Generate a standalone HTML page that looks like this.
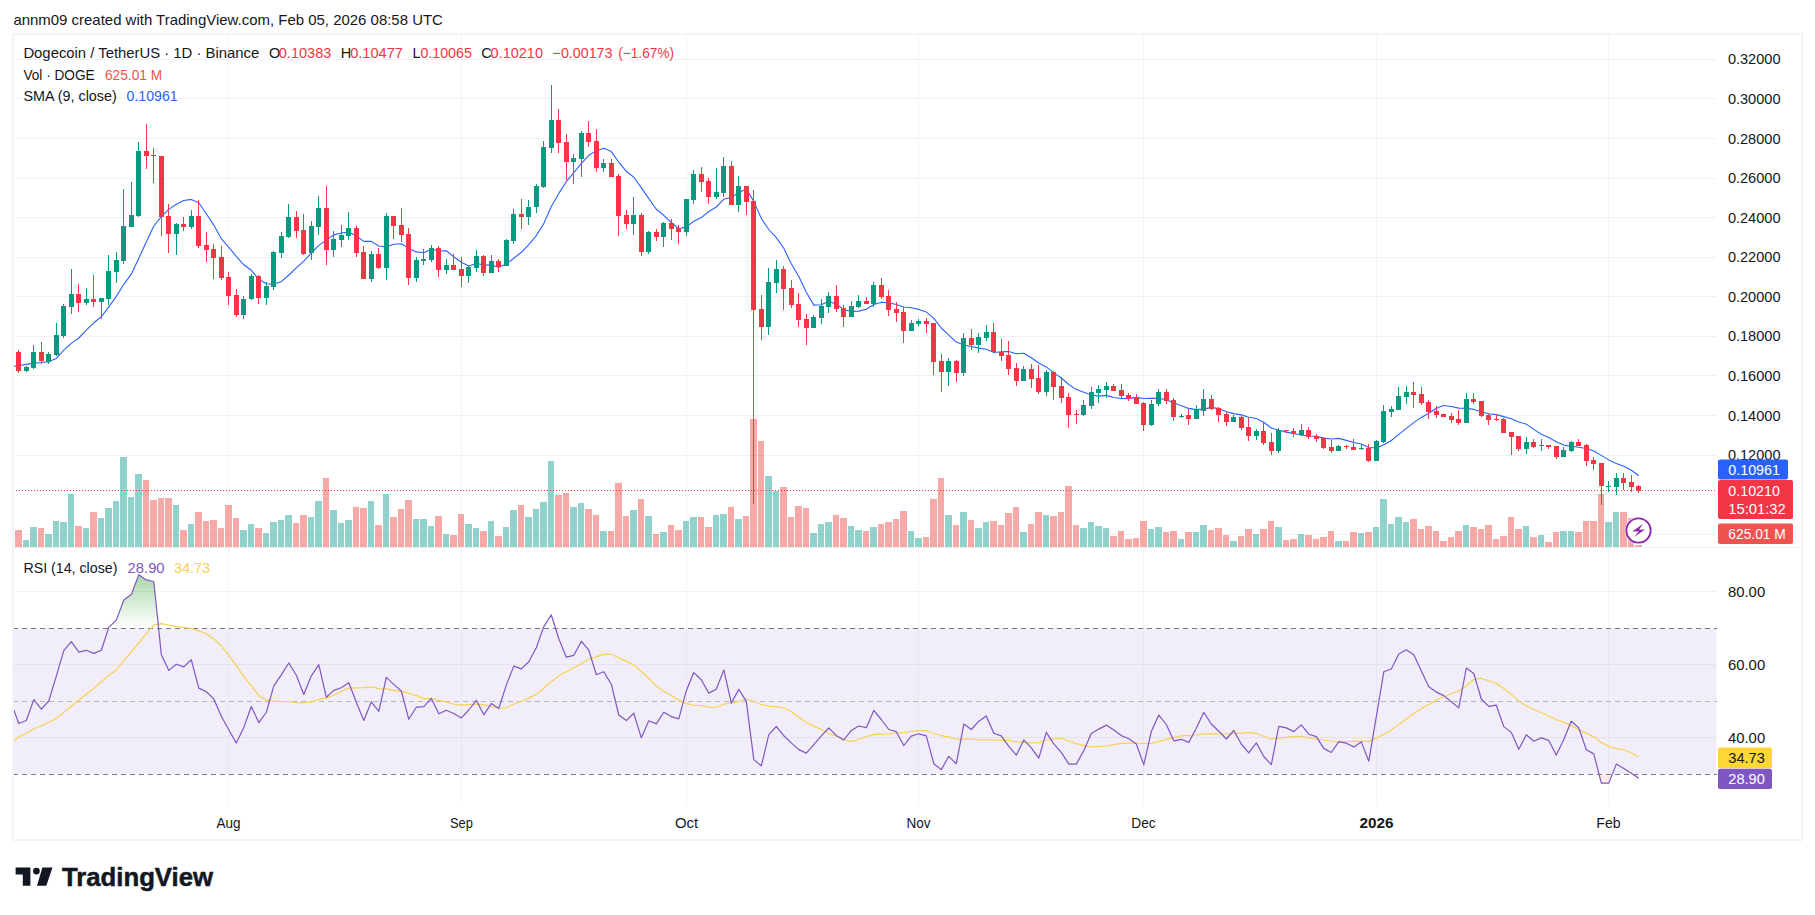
<!DOCTYPE html>
<html lang="en"><head><meta charset="utf-8"><title>DOGEUSDT chart</title>
<style>html,body{margin:0;padding:0;background:#fff;}body{width:1815px;height:915px;overflow:hidden;font-family:"Liberation Sans", Arial, sans-serif;}svg{display:block}</style>
</head><body>
<svg width="1815" height="915" viewBox="0 0 1815 915" font-family='"Liberation Sans", Arial, sans-serif'><rect x="0" y="0" width="1815" height="915" fill="#ffffff"/>
<path d="M13 59.5H1716 M13 98.5H1716 M13 138.5H1716 M13 178.5H1716 M13 217.5H1716 M13 257.5H1716 M13 296.5H1716 M13 336.5H1716 M13 375.5H1716 M13 415.5H1716 M13 455.5H1716 M13 494.5H1716 M13 534.5H1716 M13 591.5H1716 M13 664.5H1716 M13 737.5H1716" stroke="#f1f1f3" stroke-width="1" fill="none" shape-rendering="crispEdges"/>
<path d="M228.5 35V804 M461.5 35V804 M686.5 35V804 M918.5 35V804 M1143.5 35V804 M1376.5 35V804 M1608.5 35V804" stroke="#f4f4f6" stroke-width="1" fill="none" shape-rendering="crispEdges"/>
<path d="M13 547.5H1802" stroke="#eeeef0" stroke-width="1" shape-rendering="crispEdges"/>
<path d="M23 540H29V547H23ZM30 527H37V547H30ZM45 534H52V547H45ZM53 521H59V547H53ZM60 522H67V547H60ZM68 494H74V547H68ZM83 528H89V547H83ZM98 518H104V547H98ZM105 508H112V547H105ZM113 501H119V547H113ZM120 457H127V547H120ZM128 497H134V547H128ZM135 474H142V547H135ZM173 505H179V547H173ZM188 524H194V547H188ZM240 530H247V547H240ZM248 524H254V547H248ZM263 533H269V547H263ZM270 522H277V547H270ZM278 520H284V547H278ZM285 515H292V547H285ZM308 517H314V547H308ZM315 501H322V547H315ZM330 510H337V547H330ZM338 523H344V547H338ZM345 520H352V547H345ZM368 501H374V547H368ZM383 494H389V547H383ZM413 519H419V547H413ZM420 519H427V547H420ZM428 526H434V547H428ZM443 534H449V547H443ZM465 524H472V547H465ZM473 528H479V547H473ZM488 521H494V547H488ZM503 527H509V547H503ZM510 510H517V547H510ZM525 517H532V547H525ZM533 509H539V547H533ZM540 502H547V547H540ZM548 461H554V547H548ZM570 507H577V547H570ZM578 503H584V547H578ZM600 531H607V547H600ZM630 510H637V547H630ZM645 516H652V547H645ZM660 532H667V547H660ZM683 521H689V547H683ZM690 517H697V547H690ZM713 515H719V547H713ZM720 514H727V547H720ZM735 519H742V547H735ZM765 476H772V547H765ZM773 491H779V547H773ZM810 533H817V547H810ZM818 524H824V547H818ZM825 522H832V547H825ZM848 526H854V547H848ZM855 530H862V547H855ZM870 527H877V547H870ZM908 531H914V547H908ZM915 538H922V547H915ZM945 515H952V547H945ZM960 512H967V547H960ZM975 528H982V547H975ZM983 522H989V547H983ZM1020 532H1027V547H1020ZM1043 515H1049V547H1043ZM1080 528H1087V547H1080ZM1088 522H1094V547H1088ZM1095 526H1102V547H1095ZM1103 528H1109V547H1103ZM1148 529H1154V547H1148ZM1155 527H1162V547H1155ZM1178 539H1184V547H1178ZM1193 532H1199V547H1193ZM1200 525H1207V547H1200ZM1230 541H1237V547H1230ZM1253 534H1259V547H1253ZM1275 527H1282V547H1275ZM1298 534H1304V547H1298ZM1335 541H1342V547H1335ZM1358 533H1364V547H1358ZM1373 527H1379V547H1373ZM1380 499H1387V547H1380ZM1388 524H1394V547H1388ZM1395 517H1402V547H1395ZM1403 522H1409V547H1403ZM1463 525H1469V547H1463ZM1523 526H1529V547H1523ZM1538 535H1544V547H1538ZM1560 531H1567V547H1560ZM1568 531H1574V547H1568ZM1605 522H1612V547H1605ZM1613 512H1619V547H1613Z" fill="#26a69a" fill-opacity="0.5" shape-rendering="crispEdges"/>
<path d="M15 530H22V547H15ZM38 528H44V547H38ZM75 526H82V547H75ZM90 512H97V547H90ZM143 480H149V547H143ZM150 500H157V547H150ZM158 498H164V547H158ZM165 498H172V547H165ZM180 530H187V547H180ZM195 512H202V547H195ZM203 521H209V547H203ZM210 520H217V547H210ZM218 528H224V547H218ZM225 505H232V547H225ZM233 518H239V547H233ZM255 528H262V547H255ZM293 523H299V547H293ZM300 515H307V547H300ZM323 478H329V547H323ZM353 507H359V547H353ZM360 508H367V547H360ZM375 525H382V547H375ZM390 517H397V547H390ZM398 509H404V547H398ZM405 500H412V547H405ZM435 516H442V547H435ZM450 535H457V547H450ZM458 514H464V547H458ZM480 531H487V547H480ZM495 536H502V547H495ZM518 505H524V547H518ZM555 495H562V547H555ZM563 493H569V547H563ZM585 509H592V547H585ZM593 515H599V547H593ZM608 531H614V547H608ZM615 483H622V547H615ZM623 516H629V547H623ZM638 499H644V547H638ZM653 534H659V547H653ZM668 525H674V547H668ZM675 530H682V547H675ZM698 517H704V547H698ZM705 527H712V547H705ZM728 507H734V547H728ZM743 516H749V547H743ZM750 419H757V547H750ZM758 441H764V547H758ZM780 487H787V547H780ZM788 517H794V547H788ZM795 506H802V547H795ZM803 508H809V547H803ZM833 515H839V547H833ZM840 518H847V547H840ZM863 531H869V547H863ZM878 524H884V547H878ZM885 522H892V547H885ZM893 519H899V547H893ZM900 511H907V547H900ZM923 537H929V547H923ZM930 499H937V547H930ZM938 478H944V547H938ZM953 525H959V547H953ZM968 520H974V547H968ZM990 521H997V547H990ZM998 525H1004V547H998ZM1005 513H1012V547H1005ZM1013 507H1019V547H1013ZM1028 524H1034V547H1028ZM1035 512H1042V547H1035ZM1050 516H1057V547H1050ZM1058 512H1064V547H1058ZM1065 486H1072V547H1065ZM1073 525H1079V547H1073ZM1110 536H1117V547H1110ZM1118 531H1124V547H1118ZM1125 539H1132V547H1125ZM1133 538H1139V547H1133ZM1140 521H1147V547H1140ZM1163 532H1169V547H1163ZM1170 531H1177V547H1170ZM1185 532H1192V547H1185ZM1208 530H1214V547H1208ZM1215 528H1222V547H1215ZM1223 535H1229V547H1223ZM1238 536H1244V547H1238ZM1245 529H1252V547H1245ZM1260 529H1267V547H1260ZM1268 521H1274V547H1268ZM1283 540H1289V547H1283ZM1290 539H1297V547H1290ZM1305 535H1312V547H1305ZM1313 539H1319V547H1313ZM1320 537H1327V547H1320ZM1328 531H1334V547H1328ZM1343 541H1349V547H1343ZM1350 532H1357V547H1350ZM1365 532H1372V547H1365ZM1410 519H1417V547H1410ZM1418 529H1424V547H1418ZM1425 526H1432V547H1425ZM1433 531H1439V547H1433ZM1440 541H1447V547H1440ZM1448 537H1454V547H1448ZM1455 531H1462V547H1455ZM1470 527H1477V547H1470ZM1478 529H1484V547H1478ZM1485 525H1492V547H1485ZM1493 539H1499V547H1493ZM1500 536H1507V547H1500ZM1508 517H1514V547H1508ZM1515 529H1522V547H1515ZM1530 537H1537V547H1530ZM1545 542H1552V547H1545ZM1553 532H1559V547H1553ZM1575 532H1582V547H1575ZM1583 521H1589V547H1583ZM1590 521H1597V547H1590ZM1598 494H1604V547H1598ZM1620 512H1627V547H1620ZM1628 518H1634V547H1628ZM1635 545H1642V547H1635Z" fill="#ef5350" fill-opacity="0.5" shape-rendering="crispEdges"/>
<path d="M13 490.5H1716" stroke="#f23645" stroke-width="1" stroke-dasharray="1 2" shape-rendering="crispEdges"/>
<clipPath id="cp"><rect x="13" y="35" width="1703" height="512"/></clipPath><path d="M11.3 366.6 L18.8 365.7 L26.3 364.4 L33.8 363.1 L41.3 362.5 L48.8 361.6 L56.3 358.4 L63.8 350.2 L71.3 343.4 L78.8 338.0 L86.3 330.1 L93.8 322.8 L101.3 316.8 L108.8 306.8 L116.3 296.4 L123.8 284.3 L131.3 274.2 L138.8 258.3 L146.3 242.0 L153.8 226.0 L161.3 216.6 L168.8 209.4 L176.3 204.2 L183.8 200.5 L191.3 199.4 L198.8 202.8 L206.3 213.8 L213.8 225.1 L221.3 238.7 L228.8 247.4 L236.3 256.4 L243.8 264.8 L251.3 270.3 L258.8 279.3 L266.3 283.8 L273.8 284.1 L281.3 281.7 L288.8 275.0 L296.3 267.8 L303.8 261.1 L311.3 253.0 L318.8 245.4 L326.3 240.1 L333.8 234.9 L341.3 233.0 L348.8 232.1 L356.3 236.0 L363.8 241.4 L371.3 241.4 L378.8 246.0 L386.3 246.9 L393.8 244.2 L401.3 243.7 L408.8 248.4 L416.3 251.9 L423.8 252.7 L431.3 249.2 L438.8 251.0 L446.3 250.7 L453.8 256.7 L461.3 262.3 L468.8 265.9 L476.3 263.5 L483.8 264.9 L491.3 265.1 L498.8 267.2 L506.3 263.9 L513.8 258.2 L521.3 252.3 L528.8 244.6 L536.3 235.6 L543.8 223.5 L551.3 206.5 L558.8 193.4 L566.3 181.7 L573.8 172.6 L581.3 163.6 L588.8 155.3 L596.3 150.9 L603.8 148.3 L611.3 151.6 L618.8 162.2 L626.3 171.3 L633.8 177.2 L641.3 187.6 L648.8 198.6 L656.3 209.2 L663.8 215.3 L671.3 222.6 L678.8 228.7 L686.3 226.9 L693.8 221.3 L701.3 217.6 L708.8 211.5 L716.3 207.0 L723.8 199.2 L731.3 197.2 L738.8 192.5 L746.3 189.1 L753.8 201.4 L761.3 218.4 L768.8 229.5 L776.3 237.6 L783.8 248.3 L791.3 263.8 L798.8 276.5 L806.3 292.2 L813.8 305.1 L821.3 304.7 L828.8 301.3 L836.3 304.3 L843.8 309.5 L851.3 311.5 L858.8 311.1 L866.3 309.3 L873.8 304.5 L881.3 302.3 L888.8 302.7 L896.3 304.5 L903.8 307.0 L911.3 307.7 L918.8 309.4 L926.3 311.9 L933.8 318.3 L941.3 328.0 L948.8 335.2 L956.3 342.1 L963.8 345.0 L971.3 346.5 L978.8 348.1 L986.3 349.3 L993.8 352.5 L1001.3 351.8 L1008.8 351.5 L1016.3 353.7 L1023.8 353.2 L1031.3 357.8 L1038.8 363.0 L1046.3 366.9 L1053.8 372.9 L1061.3 378.0 L1068.8 384.5 L1076.3 389.6 L1083.8 392.3 L1091.3 395.0 L1098.8 396.1 L1106.3 395.4 L1113.8 397.5 L1121.3 398.5 L1128.8 398.6 L1136.3 397.4 L1143.8 398.5 L1151.3 398.4 L1158.8 398.4 L1166.3 399.7 L1173.8 403.1 L1181.3 405.8 L1188.8 408.4 L1196.3 409.6 L1203.8 409.1 L1211.3 407.4 L1218.8 408.6 L1226.3 411.8 L1233.8 413.6 L1241.3 414.9 L1248.8 417.2 L1256.3 418.5 L1263.8 422.2 L1271.3 428.0 L1278.8 430.3 L1286.3 432.1 L1293.8 433.5 L1301.3 435.0 L1308.8 436.0 L1316.3 436.3 L1323.8 438.1 L1331.3 439.0 L1338.8 438.4 L1346.3 440.4 L1353.8 442.5 L1361.3 444.0 L1368.8 447.5 L1376.3 447.9 L1383.8 444.8 L1391.3 440.5 L1398.8 434.4 L1406.3 428.4 L1413.8 422.6 L1421.3 417.4 L1428.8 413.3 L1436.3 408.2 L1443.8 405.5 L1451.3 406.5 L1458.8 408.1 L1466.3 408.4 L1473.8 409.4 L1481.3 411.8 L1488.8 413.7 L1496.3 414.6 L1503.8 416.6 L1511.3 418.8 L1518.8 422.0 L1526.3 424.1 L1533.8 429.4 L1541.3 434.2 L1548.8 437.6 L1556.3 441.7 L1563.8 445.1 L1571.3 446.2 L1578.8 447.2 L1586.3 448.5 L1593.8 451.0 L1601.3 455.4 L1608.8 459.9 L1616.3 463.4 L1623.8 466.3 L1631.3 470.3 L1638.8 475.7" stroke="#2962ff" stroke-width="1.1" fill="none" stroke-linejoin="round" clip-path="url(#cp)"/>
<path d="M26 366h1V372h-1Z M24 367h5V371h-5ZM33 345h1V369h-1Z M31 352h5V368h-5ZM48 352h1V364h-1Z M46 354h5V362h-5ZM56 323h1V356h-1Z M54 335h5V355h-5ZM63 304h1V338h-1Z M61 306h5V336h-5ZM71 269h1V314h-1Z M69 294h5V307h-5ZM86 288h1V305h-1Z M84 299h5V303h-5ZM101 298h1V319h-1Z M99 298h5V302h-5ZM108 255h1V305h-1Z M106 271h5V299h-5ZM116 252h1V283h-1Z M114 260h5V272h-5ZM123 189h1V264h-1Z M121 226h5V261h-5ZM131 182h1V227h-1Z M129 215h5V227h-5ZM138 142h1V217h-1Z M136 151h5V216h-5ZM176 223h1V255h-1Z M174 224h5V234h-5ZM191 210h1V229h-1Z M189 216h5V227h-5ZM243 296h1V319h-1Z M241 299h5V315h-5ZM251 274h1V300h-1Z M249 276h5V299h-5ZM266 282h1V305h-1Z M264 286h5V298h-5ZM273 251h1V290h-1Z M271 252h5V287h-5ZM281 232h1V258h-1Z M279 236h5V253h-5ZM288 204h1V238h-1Z M286 217h5V237h-5ZM311 221h1V260h-1Z M309 226h5V253h-5ZM318 196h1V235h-1Z M316 208h5V227h-5ZM333 231h1V257h-1Z M331 239h5V250h-5ZM341 225h1V247h-1Z M339 235h5V240h-5ZM348 212h1V240h-1Z M346 228h5V236h-5ZM371 251h1V282h-1Z M369 254h5V279h-5ZM386 213h1V280h-1Z M384 216h5V268h-5ZM416 257h1V282h-1Z M414 260h5V278h-5ZM423 249h1V265h-1Z M421 259h5V261h-5ZM431 245h1V262h-1Z M429 248h5V260h-5ZM446 259h1V274h-1Z M444 265h5V270h-5ZM468 266h1V283h-1Z M466 267h5V276h-5ZM476 250h1V272h-1Z M474 256h5V268h-5ZM491 255h1V273h-1Z M489 261h5V273h-5ZM506 239h1V266h-1Z M504 240h5V266h-5ZM513 209h1V244h-1Z M511 214h5V241h-5ZM528 200h1V225h-1Z M526 207h5V217h-5ZM536 184h1V213h-1Z M534 186h5V207h-5ZM543 141h1V188h-1Z M541 147h5V187h-5ZM551 85h1V153h-1Z M549 120h5V148h-5ZM573 154h1V184h-1Z M571 158h5V162h-5ZM581 131h1V177h-1Z M579 133h5V159h-5ZM603 159h1V172h-1Z M601 163h5V168h-5ZM633 197h1V235h-1Z M631 215h5V224h-5ZM648 231h1V254h-1Z M646 232h5V252h-5ZM663 222h1V247h-1Z M661 223h5V237h-5ZM686 199h1V236h-1Z M684 199h5V232h-5ZM693 170h1V204h-1Z M691 174h5V200h-5ZM716 168h1V199h-1Z M714 192h5V197h-5ZM723 157h1V197h-1Z M721 166h5V193h-5ZM738 176h1V212h-1Z M736 186h5V205h-5ZM768 268h1V335h-1Z M766 282h5V327h-5ZM776 260h1V293h-1Z M774 269h5V283h-5ZM813 315h1V328h-1Z M811 317h5V328h-5ZM821 299h1V324h-1Z M819 306h5V318h-5ZM828 292h1V313h-1Z M826 296h5V307h-5ZM851 301h1V317h-1Z M849 306h5V317h-5ZM858 295h1V308h-1Z M856 301h5V307h-5ZM873 282h1V307h-1Z M871 285h5V304h-5ZM911 320h1V331h-1Z M909 323h5V331h-5ZM918 319h1V326h-1Z M916 321h5V324h-5ZM948 358h1V386h-1Z M946 361h5V372h-5ZM963 333h1V376h-1Z M961 338h5V373h-5ZM978 333h1V353h-1Z M976 337h5V345h-5ZM986 325h1V341h-1Z M984 332h5V338h-5ZM1023 366h1V381h-1Z M1021 369h5V381h-5ZM1046 370h1V396h-1Z M1044 372h5V392h-5ZM1083 400h1V416h-1Z M1081 405h5V415h-5ZM1091 387h1V409h-1Z M1089 392h5V406h-5ZM1098 385h1V403h-1Z M1096 389h5V393h-5ZM1106 382h1V398h-1Z M1104 386h5V390h-5ZM1151 400h1V426h-1Z M1149 404h5V425h-5ZM1158 389h1V406h-1Z M1156 392h5V404h-5ZM1181 414h1V418h-1Z M1179 416h5V417h-5ZM1196 405h1V419h-1Z M1194 410h5V419h-5ZM1203 389h1V416h-1Z M1201 399h5V411h-5ZM1233 415h1V422h-1Z M1231 417h5V422h-5ZM1256 429h1V440h-1Z M1254 431h5V436h-5ZM1278 428h1V453h-1Z M1276 430h5V451h-5ZM1301 424h1V436h-1Z M1299 430h5V435h-5ZM1338 445h1V451h-1Z M1336 446h5V451h-5ZM1361 444h1V450h-1Z M1359 448h5V449h-5ZM1376 440h1V461h-1Z M1374 441h5V461h-5ZM1383 405h1V443h-1Z M1381 411h5V442h-5ZM1391 406h1V417h-1Z M1389 409h5V412h-5ZM1398 387h1V410h-1Z M1396 396h5V410h-5ZM1406 386h1V404h-1Z M1404 392h5V397h-5ZM1466 393h1V423h-1Z M1464 399h5V423h-5ZM1526 437h1V454h-1Z M1524 442h5V449h-5ZM1541 439h1V451h-1Z M1539 445h5V446h-5ZM1563 447h1V457h-1Z M1561 450h5V457h-5ZM1571 441h1V452h-1Z M1569 442h5V451h-5ZM1608 481h1V492h-1Z M1606 486h5V487h-5ZM1616 473h1V495h-1Z M1614 478h5V487h-5Z" fill="#089981" shape-rendering="crispEdges"/>
<path d="M18 350h1V373h-1Z M16 352h5V371h-5ZM41 342h1V364h-1Z M39 352h5V361h-5ZM78 284h1V312h-1Z M76 294h5V303h-5ZM93 275h1V307h-1Z M91 299h5V302h-5ZM146 124h1V169h-1Z M144 151h5V156h-5ZM153 148h1V183h-1Z M151 155h5V156h-5ZM161 156h1V236h-1Z M159 156h5V217h-5ZM168 204h1V253h-1Z M166 216h5V234h-5ZM183 217h1V231h-1Z M181 224h5V227h-5ZM198 200h1V248h-1Z M196 216h5V246h-5ZM206 232h1V262h-1Z M204 245h5V250h-5ZM213 244h1V279h-1Z M211 249h5V258h-5ZM221 246h1V280h-1Z M219 257h5V278h-5ZM228 272h1V305h-1Z M226 277h5V296h-5ZM236 289h1V317h-1Z M234 295h5V315h-5ZM258 275h1V304h-1Z M256 276h5V298h-5ZM296 211h1V238h-1Z M294 217h5V231h-5ZM303 214h1V255h-1Z M301 230h5V254h-5ZM326 186h1V265h-1Z M324 208h5V250h-5ZM356 226h1V257h-1Z M354 228h5V253h-5ZM363 246h1V279h-1Z M361 252h5V279h-5ZM378 248h1V269h-1Z M376 254h5V268h-5ZM393 216h1V239h-1Z M391 216h5V226h-5ZM401 208h1V242h-1Z M399 225h5V235h-5ZM408 228h1V285h-1Z M406 234h5V278h-5ZM438 246h1V277h-1Z M436 248h5V270h-5ZM453 254h1V270h-1Z M451 265h5V270h-5ZM461 257h1V287h-1Z M459 269h5V276h-5ZM483 255h1V276h-1Z M481 256h5V273h-5ZM498 259h1V272h-1Z M496 261h5V267h-5ZM521 199h1V229h-1Z M519 214h5V217h-5ZM558 109h1V153h-1Z M556 120h5V143h-5ZM566 134h1V180h-1Z M564 142h5V162h-5ZM588 121h1V147h-1Z M586 133h5V142h-5ZM596 129h1V172h-1Z M594 141h5V168h-5ZM611 159h1V177h-1Z M609 163h5V177h-5ZM618 174h1V236h-1Z M616 176h5V216h-5ZM626 210h1V229h-1Z M624 215h5V224h-5ZM641 213h1V256h-1Z M639 215h5V252h-5ZM656 229h1V241h-1Z M654 232h5V237h-5ZM671 219h1V240h-1Z M669 223h5V229h-5ZM678 225h1V244h-1Z M676 228h5V232h-5ZM701 167h1V192h-1Z M699 174h5V182h-5ZM708 178h1V204h-1Z M706 181h5V197h-5ZM731 161h1V205h-1Z M729 166h5V205h-5ZM746 186h1V215h-1Z M744 186h5V202h-5ZM753 190h1V504h-1Z M751 201h5V310h-5ZM761 295h1V340h-1Z M759 309h5V327h-5ZM783 266h1V310h-1Z M781 269h5V289h-5ZM791 280h1V308h-1Z M789 288h5V305h-5ZM798 293h1V327h-1Z M796 304h5V320h-5ZM806 314h1V345h-1Z M804 319h5V328h-5ZM836 285h1V312h-1Z M834 296h5V309h-5ZM843 305h1V327h-1Z M841 308h5V317h-5ZM866 297h1V304h-1Z M864 301h5V304h-5ZM881 278h1V299h-1Z M879 285h5V297h-5ZM888 290h1V316h-1Z M886 296h5V310h-5ZM896 302h1V322h-1Z M894 309h5V313h-5ZM903 307h1V343h-1Z M901 312h5V331h-5ZM926 318h1V333h-1Z M924 321h5V324h-5ZM933 323h1V375h-1Z M931 323h5V362h-5ZM941 354h1V392h-1Z M939 361h5V372h-5ZM956 360h1V382h-1Z M954 361h5V373h-5ZM971 329h1V350h-1Z M969 338h5V345h-5ZM993 323h1V353h-1Z M991 332h5V352h-5ZM1001 339h1V361h-1Z M999 352h5V356h-5ZM1008 341h1V375h-1Z M1006 355h5V369h-5ZM1016 363h1V386h-1Z M1014 368h5V381h-5ZM1031 364h1V388h-1Z M1029 369h5V379h-5ZM1038 365h1V394h-1Z M1036 378h5V392h-5ZM1053 371h1V400h-1Z M1051 372h5V387h-5ZM1061 377h1V403h-1Z M1059 386h5V398h-5ZM1068 393h1V428h-1Z M1066 397h5V415h-5ZM1076 410h1V424h-1Z M1074 414h5V415h-5ZM1113 384h1V391h-1Z M1111 386h5V391h-5ZM1121 384h1V398h-1Z M1119 390h5V396h-5ZM1128 393h1V401h-1Z M1126 395h5V399h-5ZM1136 394h1V404h-1Z M1134 398h5V404h-5ZM1143 402h1V431h-1Z M1141 403h5V425h-5ZM1166 389h1V404h-1Z M1164 392h5V401h-5ZM1173 398h1V421h-1Z M1171 400h5V417h-5ZM1188 409h1V425h-1Z M1186 415h5V419h-5ZM1211 395h1V410h-1Z M1209 399h5V409h-5ZM1218 407h1V422h-1Z M1216 408h5V415h-5ZM1226 412h1V426h-1Z M1224 414h5V422h-5ZM1241 416h1V430h-1Z M1239 417h5V428h-5ZM1248 418h1V441h-1Z M1246 427h5V436h-5ZM1263 422h1V445h-1Z M1261 431h5V443h-5ZM1271 433h1V455h-1Z M1269 442h5V451h-5ZM1286 430h1V433h-1Z M1284 430h5V431h-5ZM1293 428h1V437h-1Z M1291 431h5V434h-5ZM1308 427h1V439h-1Z M1306 430h5V437h-5ZM1316 434h1V442h-1Z M1314 436h5V439h-5ZM1323 437h1V449h-1Z M1321 438h5V448h-5ZM1331 440h1V453h-1Z M1329 447h5V451h-5ZM1346 445h1V449h-1Z M1344 446h5V447h-5ZM1353 439h1V450h-1Z M1351 447h5V450h-5ZM1368 444h1V462h-1Z M1366 448h5V461h-5ZM1413 382h1V408h-1Z M1411 392h5V395h-5ZM1421 387h1V405h-1Z M1419 394h5V403h-5ZM1428 400h1V419h-1Z M1426 402h5V412h-5ZM1436 406h1V418h-1Z M1434 411h5V415h-5ZM1443 414h1V417h-1Z M1441 414h5V417h-5ZM1451 413h1V423h-1Z M1449 416h5V420h-5ZM1458 410h1V425h-1Z M1456 419h5V423h-5ZM1473 393h1V404h-1Z M1471 399h5V402h-5ZM1481 401h1V417h-1Z M1479 401h5V416h-5ZM1488 414h1V425h-1Z M1486 415h5V420h-5ZM1496 414h1V421h-1Z M1494 419h5V420h-5ZM1503 418h1V433h-1Z M1501 419h5V433h-5ZM1511 432h1V455h-1Z M1509 432h5V437h-5ZM1518 436h1V451h-1Z M1516 436h5V449h-5ZM1533 439h1V448h-1Z M1531 442h5V447h-5ZM1548 445h1V449h-1Z M1546 445h5V447h-5ZM1556 446h1V459h-1Z M1554 446h5V457h-5ZM1578 439h1V446h-1Z M1576 442h5V446h-5ZM1586 444h1V466h-1Z M1584 445h5V461h-5ZM1593 457h1V470h-1Z M1591 460h5V464h-5ZM1601 463h1V505h-1Z M1599 463h5V486h-5ZM1623 473h1V490h-1Z M1621 478h5V483h-5ZM1631 475h1V492h-1Z M1629 482h5V487h-5ZM1638 485h1V493h-1Z M1636 486h5V491h-5Z" fill="#f23645" shape-rendering="crispEdges"/>
<clipPath id="cr"><rect x="13" y="548" width="1703.5" height="256"/></clipPath>
<rect x="13" y="628.3" width="1703.5" height="146.0" fill="#7e57c2" fill-opacity="0.1"/>
<defs><linearGradient id="gob" gradientUnits="userSpaceOnUse" x1="0" y1="518.8" x2="0" y2="628.3"><stop offset="0" stop-color="#4caf50" stop-opacity="1"/><stop offset="1" stop-color="#4caf50" stop-opacity="0"/></linearGradient><linearGradient id="gos" x1="0" y1="0" x2="0" y2="1"><stop offset="0" stop-color="#ff5252" stop-opacity="0"/><stop offset="1" stop-color="#ff5252" stop-opacity="0.4"/></linearGradient></defs>
<path d="M108.5 628.3 L108.8 627.4 L116.3 620.1 L123.8 600.0 L131.3 594.5 L138.8 574.8 L146.3 579.9 L153.8 581.5 L158.6 628.3Z" fill="url(#gob)" clip-path="url(#cr)"/>
<path d="M543.2 628.3 L543.8 626.6 L551.3 614.8 L555.5 628.3Z" fill="url(#gob)" clip-path="url(#cr)"/>
<path d="M1599.0 774.3 L1601.3 783.1 L1608.8 783.1 L1612.3 774.3Z" fill="#ff5252" fill-opacity="0.12" clip-path="url(#cr)"/>
<path d="M1632.9 774.3 L1638.8 778.3 L1638.8 774.3Z" fill="#ff5252" fill-opacity="0.12" clip-path="url(#cr)"/>
<path d="M13 628.5H1716.5" stroke="#787b86" stroke-width="1" stroke-dasharray="5 4" shape-rendering="crispEdges"/>
<path d="M13 701.5H1716.5" stroke="#b2b5be" stroke-width="1" stroke-dasharray="5 4" shape-rendering="crispEdges"/>
<path d="M13 774.5H1716.5" stroke="#787b86" stroke-width="1" stroke-dasharray="5 4" shape-rendering="crispEdges"/>
<path d="M11.3 744.0 L18.8 736.7 L26.3 733.5 L33.8 728.7 L41.3 725.8 L48.8 722.4 L56.3 718.2 L63.8 712.4 L71.3 706.2 L78.8 700.0 L86.3 694.3 L93.8 688.6 L101.3 681.8 L108.8 675.5 L116.3 669.7 L123.8 660.9 L131.3 651.9 L138.8 643.0 L146.3 633.7 L153.8 625.2 L161.3 623.6 L168.8 625.1 L176.3 626.7 L183.8 627.7 L191.3 628.4 L198.8 630.9 L206.3 633.8 L213.8 638.9 L221.3 645.8 L228.8 655.1 L236.3 665.7 L243.8 676.6 L251.3 685.6 L258.8 695.7 L266.3 699.9 L273.8 701.0 L281.3 701.7 L288.8 701.5 L296.3 702.6 L303.8 703.0 L311.3 701.9 L318.8 699.4 L326.3 698.1 L333.8 695.3 L341.3 691.3 L348.8 688.1 L356.3 687.8 L363.8 687.7 L371.3 686.9 L378.8 688.7 L386.3 688.9 L393.8 690.4 L401.3 691.6 L408.8 693.3 L416.3 695.6 L423.8 698.6 L431.3 698.7 L438.8 700.3 L446.3 701.9 L453.8 704.1 L461.3 705.2 L468.8 704.5 L476.3 704.4 L483.8 704.6 L491.3 706.5 L498.8 708.2 L506.3 707.8 L513.8 704.0 L521.3 701.3 L528.8 698.1 L536.3 694.4 L543.8 688.2 L551.3 681.4 L558.8 676.0 L566.3 671.7 L573.8 667.8 L581.3 663.6 L588.8 659.0 L596.3 656.9 L603.8 654.3 L611.3 654.2 L618.8 657.7 L626.3 661.4 L633.8 665.1 L641.3 671.5 L648.8 678.2 L656.3 686.0 L663.8 691.3 L671.3 695.5 L678.8 700.1 L686.3 703.6 L693.8 705.2 L701.3 705.6 L708.8 707.1 L716.3 707.5 L723.8 704.2 L731.3 703.0 L738.8 701.3 L746.3 698.7 L753.8 701.5 L761.3 704.5 L768.8 706.1 L776.3 706.8 L783.8 708.0 L791.3 711.7 L798.8 717.2 L806.3 722.5 L813.8 726.1 L821.3 729.4 L828.8 733.6 L836.3 735.9 L843.8 739.5 L851.3 741.6 L858.8 739.2 L866.3 736.5 L873.8 734.7 L881.3 734.2 L888.8 733.8 L896.3 733.0 L903.8 732.7 L911.3 731.5 L918.8 730.7 L926.3 730.7 L933.8 733.3 L941.3 735.7 L948.8 736.9 L956.3 739.3 L963.8 739.1 L971.3 739.2 L978.8 740.0 L986.3 739.8 L993.8 740.0 L1001.3 740.3 L1008.8 740.4 L1016.3 741.8 L1023.8 742.2 L1031.3 743.0 L1038.8 742.6 L1046.3 740.0 L1053.8 739.1 L1061.3 738.3 L1068.8 741.1 L1076.3 743.6 L1083.8 745.7 L1091.3 747.0 L1098.8 746.7 L1106.3 745.9 L1113.8 744.7 L1121.3 743.3 L1128.8 743.2 L1136.3 743.0 L1143.8 743.5 L1151.3 743.4 L1158.8 741.3 L1166.3 739.3 L1173.8 737.7 L1181.3 735.9 L1188.8 735.3 L1196.3 735.0 L1203.8 733.8 L1211.3 733.7 L1218.8 733.8 L1226.3 734.0 L1233.8 733.4 L1241.3 733.4 L1248.8 732.6 L1256.3 733.4 L1263.8 736.3 L1271.3 739.2 L1278.8 738.2 L1286.3 737.3 L1293.8 736.6 L1301.3 736.3 L1308.8 737.9 L1316.3 738.8 L1323.8 740.0 L1331.3 741.0 L1338.8 741.8 L1346.3 741.7 L1353.8 741.3 L1361.3 741.2 L1368.8 741.6 L1376.3 738.1 L1383.8 734.2 L1391.3 730.0 L1398.8 724.5 L1406.3 719.1 L1413.8 713.4 L1421.3 708.8 L1428.8 704.4 L1436.3 700.0 L1443.8 696.8 L1451.3 693.8 L1458.8 691.0 L1466.3 685.7 L1473.8 679.5 L1481.3 678.2 L1488.8 680.7 L1496.3 683.3 L1503.8 688.5 L1511.3 694.4 L1518.8 701.1 L1526.3 705.7 L1533.8 709.5 L1541.3 712.8 L1548.8 716.0 L1556.3 719.8 L1563.8 722.1 L1571.3 725.9 L1578.8 729.8 L1586.3 733.4 L1593.8 736.8 L1601.3 742.4 L1608.8 746.4 L1616.3 748.7 L1623.8 750.0 L1631.3 752.8 L1638.8 757.0" stroke="#f7d154" stroke-width="1.2" fill="none" stroke-linejoin="round" clip-path="url(#cr)"/>
<path d="M11.3 703.1 L18.8 723.5 L26.3 720.5 L33.8 699.6 L41.3 709.2 L48.8 701.0 L56.3 676.1 L63.8 650.7 L71.3 641.7 L78.8 652.2 L86.3 650.3 L93.8 653.4 L101.3 650.3 L108.8 627.4 L116.3 620.1 L123.8 600.0 L131.3 594.5 L138.8 574.8 L146.3 579.9 L153.8 581.5 L161.3 654.4 L168.8 670.4 L176.3 664.2 L183.8 666.9 L191.3 659.8 L198.8 688.1 L206.3 691.8 L213.8 698.9 L221.3 716.3 L228.8 729.8 L236.3 743.1 L243.8 727.4 L251.3 706.5 L258.8 722.6 L266.3 712.5 L273.8 685.8 L281.3 674.9 L288.8 663.0 L296.3 675.2 L303.8 694.5 L311.3 675.8 L318.8 664.7 L326.3 697.2 L333.8 690.4 L341.3 687.7 L348.8 682.8 L356.3 702.3 L363.8 720.5 L371.3 701.8 L378.8 711.4 L386.3 677.4 L393.8 684.4 L401.3 691.0 L408.8 719.3 L416.3 707.2 L423.8 706.6 L431.3 698.4 L438.8 713.8 L446.3 710.3 L453.8 713.5 L461.3 717.9 L468.8 710.0 L476.3 700.3 L483.8 714.7 L491.3 703.6 L498.8 708.5 L506.3 685.1 L513.8 666.1 L521.3 668.9 L528.8 661.7 L536.3 647.8 L543.8 626.6 L551.3 614.8 L558.8 638.7 L566.3 657.2 L573.8 655.3 L581.3 641.2 L588.8 650.2 L596.3 674.7 L603.8 671.8 L611.3 684.2 L618.8 715.0 L626.3 720.6 L633.8 713.2 L641.3 737.8 L648.8 720.8 L656.3 723.9 L663.8 712.2 L671.3 716.6 L678.8 718.8 L686.3 690.7 L693.8 672.6 L701.3 679.7 L708.8 693.1 L716.3 689.3 L723.8 669.9 L731.3 703.1 L738.8 689.4 L746.3 701.4 L753.8 759.6 L761.3 765.9 L768.8 734.7 L776.3 726.5 L783.8 735.7 L791.3 742.9 L798.8 749.6 L806.3 753.1 L813.8 744.6 L821.3 735.8 L828.8 728.0 L836.3 735.4 L843.8 740.0 L851.3 730.4 L858.8 726.0 L866.3 727.7 L873.8 710.4 L881.3 719.5 L888.8 729.5 L896.3 731.7 L903.8 745.5 L911.3 736.1 L918.8 733.8 L926.3 735.9 L933.8 763.7 L941.3 769.6 L948.8 756.3 L956.3 763.8 L963.8 724.1 L971.3 729.5 L978.8 721.2 L986.3 715.9 L993.8 733.2 L1001.3 735.9 L1008.8 746.4 L1016.3 755.2 L1023.8 739.9 L1031.3 747.8 L1038.8 758.1 L1046.3 732.3 L1053.8 743.9 L1061.3 752.4 L1068.8 764.1 L1076.3 764.1 L1083.8 750.6 L1091.3 733.4 L1098.8 729.1 L1106.3 725.1 L1113.8 730.0 L1121.3 735.6 L1128.8 738.8 L1136.3 744.0 L1143.8 764.8 L1151.3 731.5 L1158.8 715.1 L1166.3 724.5 L1173.8 740.8 L1181.3 739.3 L1188.8 742.4 L1196.3 728.3 L1203.8 712.3 L1211.3 724.0 L1218.8 731.2 L1226.3 739.0 L1233.8 730.5 L1241.3 744.0 L1248.8 752.8 L1256.3 742.9 L1263.8 756.5 L1271.3 764.7 L1278.8 726.3 L1286.3 727.9 L1293.8 731.6 L1301.3 724.9 L1308.8 734.2 L1316.3 736.6 L1323.8 748.4 L1331.3 752.5 L1338.8 741.6 L1346.3 743.2 L1353.8 746.9 L1361.3 741.9 L1368.8 761.2 L1376.3 716.7 L1383.8 671.8 L1391.3 669.0 L1398.8 654.0 L1406.3 649.8 L1413.8 654.8 L1421.3 670.9 L1428.8 686.8 L1436.3 692.1 L1443.8 695.6 L1451.3 701.8 L1458.8 707.9 L1466.3 668.0 L1473.8 673.5 L1481.3 699.0 L1488.8 706.4 L1496.3 705.2 L1503.8 726.6 L1511.3 732.4 L1518.8 749.3 L1526.3 734.8 L1533.8 741.2 L1541.3 737.9 L1548.8 740.4 L1556.3 755.1 L1563.8 739.5 L1571.3 721.1 L1578.8 728.0 L1586.3 749.8 L1593.8 753.9 L1601.3 783.1 L1608.8 783.1 L1616.3 764.1 L1623.8 768.5 L1631.3 773.2 L1638.8 778.3" stroke="#7e57c2" stroke-width="1.2" fill="none" stroke-linejoin="round" clip-path="url(#cr)"/>
<g transform="translate(1638.5 530.5)"><circle r="13.6" fill="#ffffff"/><circle r="12.15" fill="#ffffff" stroke="#8a24a8" stroke-width="1.9"/><path d="M4.4 -6.5 L-6.2 1.0 L0.25 0.7 L-4.1 6.6 L6.3 -1.1 L0.45 -0.7 Z" fill="#8a24a8"/></g>
<rect x="13" y="34" width="1789" height="806" fill="none" stroke="#f3f3f5" stroke-width="2" shape-rendering="crispEdges"/>
<text x="1727.9" y="64.4" font-size="14.8" fill="#131722" textLength="52.6" lengthAdjust="spacingAndGlyphs">0.32000</text>
<text x="1727.9" y="104.0" font-size="14.8" fill="#131722" textLength="52.6" lengthAdjust="spacingAndGlyphs">0.30000</text>
<text x="1727.9" y="143.5" font-size="14.8" fill="#131722" textLength="52.6" lengthAdjust="spacingAndGlyphs">0.28000</text>
<text x="1727.9" y="183.1" font-size="14.8" fill="#131722" textLength="52.6" lengthAdjust="spacingAndGlyphs">0.26000</text>
<text x="1727.9" y="222.7" font-size="14.8" fill="#131722" textLength="52.6" lengthAdjust="spacingAndGlyphs">0.24000</text>
<text x="1727.9" y="262.2" font-size="14.8" fill="#131722" textLength="52.6" lengthAdjust="spacingAndGlyphs">0.22000</text>
<text x="1727.9" y="301.8" font-size="14.8" fill="#131722" textLength="52.6" lengthAdjust="spacingAndGlyphs">0.20000</text>
<text x="1727.9" y="341.4" font-size="14.8" fill="#131722" textLength="52.6" lengthAdjust="spacingAndGlyphs">0.18000</text>
<text x="1727.9" y="381.0" font-size="14.8" fill="#131722" textLength="52.6" lengthAdjust="spacingAndGlyphs">0.16000</text>
<text x="1727.9" y="420.5" font-size="14.8" fill="#131722" textLength="52.6" lengthAdjust="spacingAndGlyphs">0.14000</text>
<text x="1727.9" y="460.1" font-size="14.8" fill="#131722" textLength="52.6" lengthAdjust="spacingAndGlyphs">0.12000</text>
<text x="1727.9" y="596.8" font-size="14.8" fill="#131722" textLength="37.3" lengthAdjust="spacingAndGlyphs">80.00</text>
<text x="1727.9" y="669.8" font-size="14.8" fill="#131722" textLength="37.3" lengthAdjust="spacingAndGlyphs">60.00</text>
<text x="1727.9" y="742.8" font-size="14.8" fill="#131722" textLength="37.3" lengthAdjust="spacingAndGlyphs">40.00</text>
<rect x="1718" y="459.5" width="70" height="20" rx="2" fill="#2962ff"/>
<text x="1728.3" y="474.8" font-size="14.5" fill="#ffffff" textLength="51.6" lengthAdjust="spacingAndGlyphs">0.10961</text>
<rect x="1718" y="480" width="75" height="39" rx="2" fill="#f23645"/>
<text x="1728.3" y="495.6" font-size="14.5" fill="#ffffff" textLength="51.6" lengthAdjust="spacingAndGlyphs">0.10210</text>
<text x="1728.3" y="513.6" font-size="14.5" fill="#ffffff" textLength="57.5" lengthAdjust="spacingAndGlyphs">15:01:32</text>
<rect x="1718" y="523.5" width="75" height="20.5" rx="2" fill="#ef5350"/>
<text x="1728.3" y="539" font-size="14.5" fill="#ffffff" textLength="57.5" lengthAdjust="spacingAndGlyphs">625.01 M</text>
<rect x="1718" y="747.5" width="54" height="20.8" rx="2" fill="#fdd835"/>
<text x="1728.3" y="763.2" font-size="14.5" fill="#131722" textLength="36.5" lengthAdjust="spacingAndGlyphs">34.73</text>
<rect x="1718" y="768.8" width="54" height="20.2" rx="2" fill="#7e57c2"/>
<text x="1728.3" y="784.2" font-size="14.5" fill="#ffffff" textLength="36.5" lengthAdjust="spacingAndGlyphs">28.90</text>
<text x="228.5" y="828" font-size="14.5" fill="#131722" text-anchor="middle" textLength="24.0" lengthAdjust="spacingAndGlyphs">Aug</text>
<text x="461.5" y="828" font-size="14.5" fill="#131722" text-anchor="middle" textLength="23.0" lengthAdjust="spacingAndGlyphs">Sep</text>
<text x="686.5" y="828" font-size="14.5" fill="#131722" text-anchor="middle" textLength="23.2" lengthAdjust="spacingAndGlyphs">Oct</text>
<text x="918.5" y="828" font-size="14.5" fill="#131722" text-anchor="middle" textLength="24.1" lengthAdjust="spacingAndGlyphs">Nov</text>
<text x="1143.5" y="828" font-size="14.5" fill="#131722" text-anchor="middle" textLength="24.4" lengthAdjust="spacingAndGlyphs">Dec</text>
<text x="1376.5" y="828" font-size="14.5" fill="#131722" font-weight="bold" text-anchor="middle" textLength="34" lengthAdjust="spacingAndGlyphs">2026</text>
<text x="1608.5" y="828" font-size="14.5" fill="#131722" text-anchor="middle" textLength="24.4" lengthAdjust="spacingAndGlyphs">Feb</text>
<text x="13.4" y="24.6" font-size="14.5" fill="#131722" textLength="429.5" lengthAdjust="spacingAndGlyphs">annm09 created with TradingView.com, Feb 05, 2026 08:58 UTC</text>
<text x="23.4" y="58.4" font-size="14.5" fill="#131722" textLength="235.8" lengthAdjust="spacingAndGlyphs">Dogecoin / TetherUS · 1D · Binance</text>
<text x="269.1" y="58.4" font-size="14.5" fill="#131722">O</text>
<text x="278.8" y="58.4" font-size="14.5" fill="#f23645" textLength="52.5" lengthAdjust="spacingAndGlyphs">0.10383</text>
<text x="340.8" y="58.4" font-size="14.5" fill="#131722">H</text>
<text x="350.2" y="58.4" font-size="14.5" fill="#f23645" textLength="52.8" lengthAdjust="spacingAndGlyphs">0.10477</text>
<text x="412.6" y="58.4" font-size="14.5" fill="#131722">L</text>
<text x="420.4" y="58.4" font-size="14.5" fill="#f23645" textLength="51.4" lengthAdjust="spacingAndGlyphs">0.10065</text>
<text x="481.3" y="58.4" font-size="14.5" fill="#131722">C</text>
<text x="490.6" y="58.4" font-size="14.5" fill="#f23645" textLength="52.4" lengthAdjust="spacingAndGlyphs">0.10210</text>
<text x="552.6" y="58.4" font-size="14.5" fill="#f23645" textLength="59.8" lengthAdjust="spacingAndGlyphs">−0.00173</text>
<text x="618.2" y="58.4" font-size="14.5" fill="#f23645" textLength="55.9" lengthAdjust="spacingAndGlyphs">(−1.67%)</text>
<text x="23.4" y="79.6" font-size="14.5" fill="#131722" textLength="71.3" lengthAdjust="spacingAndGlyphs">Vol · DOGE</text>
<text x="105" y="79.6" font-size="14.5" fill="#ef5350" textLength="57.1" lengthAdjust="spacingAndGlyphs">625.01 M</text>
<text x="23.4" y="100.5" font-size="14.5" fill="#131722" textLength="93.4" lengthAdjust="spacingAndGlyphs">SMA (9, close)</text>
<text x="126.5" y="100.5" font-size="14.5" fill="#2962ff" textLength="51.2" lengthAdjust="spacingAndGlyphs">0.10961</text>
<text x="23.4" y="572.8" font-size="14.5" fill="#131722" textLength="94" lengthAdjust="spacingAndGlyphs">RSI (14, close)</text>
<text x="127.6" y="572.8" font-size="14.5" fill="#7e57c2" textLength="37" lengthAdjust="spacingAndGlyphs">28.90</text>
<text x="173.9" y="572.8" font-size="14.5" fill="#f7d154" textLength="36.3" lengthAdjust="spacingAndGlyphs">34.73</text>
<g fill="#131722"><path d="M15.6 867.6H30.4V885.7H22.8V874.6H15.6Z"/><circle cx="36.4" cy="871.1" r="3.4"/><path d="M42.4 867.6H52.5L46.3 885.7H37.0Z"/></g>
<text x="62.0" y="885.7" font-size="25" fill="#131722" font-weight="bold" textLength="151" lengthAdjust="spacingAndGlyphs" stroke="#131722" stroke-width="0.5">TradingView</text></svg>
</body></html>
